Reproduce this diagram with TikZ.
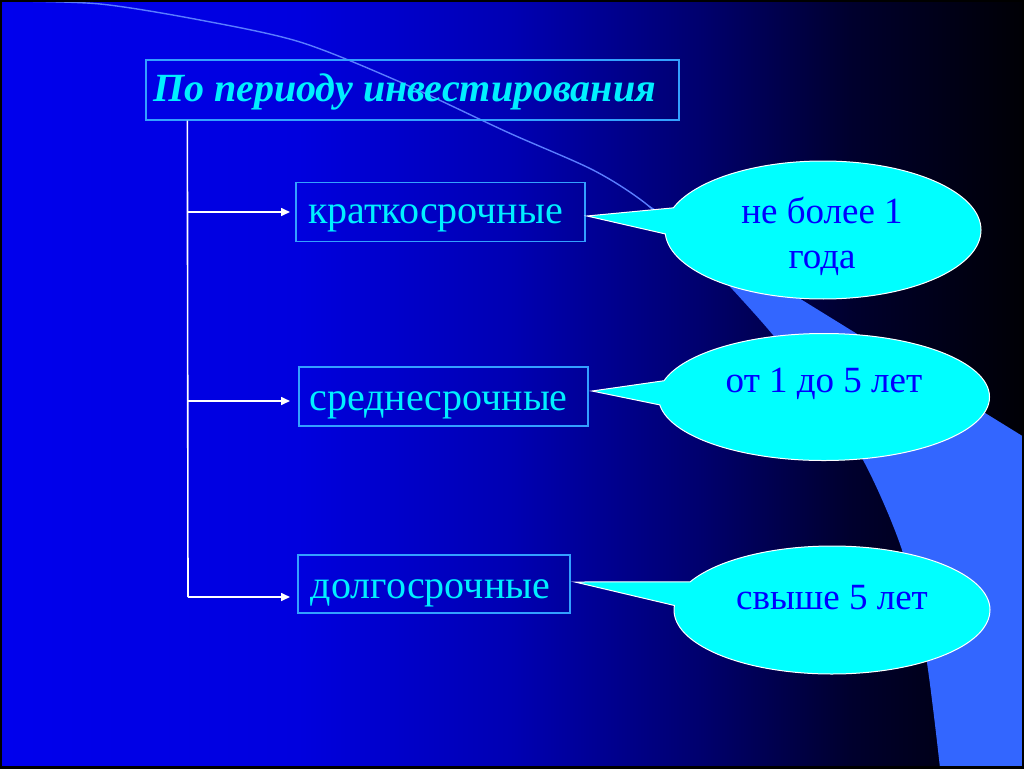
\documentclass[tikz,border=0pt]{standalone}
\usepackage{fontspec}
\setmainfont{Liberation Serif}
\usetikzlibrary{shapes.callouts,arrows.meta}
\definecolor{bandblue}{RGB}{51,102,255}
\definecolor{arcline}{RGB}{90,125,255}
\definecolor{boxline}{RGB}{51,160,255}
\definecolor{txtcyan}{RGB}{0,240,255}
\definecolor{calloutfill}{RGB}{0,255,255}
\definecolor{callouttext}{RGB}{0,0,255}
\pgfdeclarehorizontalshading{bgshade}{100bp}{rgb(0bp)=(0,0,0.93); rgb(25bp)=(0,0,0.93); rgb(39.6bp)=(0,0,0.87); rgb(50bp)=(0,0,0.70); rgb(59.2bp)=(0,0,0.43); rgb(66.5bp)=(0,0,0.18); rgb(75bp)=(0,0,0.02); rgb(100bp)=(0,0,0.02)}
\begin{document}
\begin{tikzpicture}[x=1pt,y=-1pt,
  boxstyle/.style={draw=boxline, line width=1.3pt, text=txtcyan, inner sep=0pt, text depth=0pt, font=\fontsize{40}{45}\selectfont},
  bubble/.style={ellipse callout, fill=calloutfill, draw=white, line width=1pt, inner sep=0pt, callout pointer arc=22},
  bubbletext/.style={text=callouttext, align=center, font=\fontsize{37}{45}\selectfont},
  trunk/.style={draw=white, line width=1.6pt},
  branch/.style={draw=white, line width=1.6pt, -{Triangle[length=9pt,width=8pt]}}]
\useasboundingbox (0,0) rectangle (1024,768);
\fill[shading=bgshade] (0,0) rectangle (1024,768);
\fill[bandblue] plot[smooth] coordinates {(645,203) (690,245) (733,290) (777,340) (820,400) (863,460) (902,550) (925,650) (940,768)} -- (1024,768) -- (1024,437) -- cycle;
\draw[arcline, line width=1.4pt] plot[smooth] coordinates {(8,1) (100,4) (200,20) (300,42) (400,82) (507,132) (593,170) (645,203) (690,245)};

\node[boxstyle, minimum width=533pt, minimum height=60pt, text height=22pt, font=\fontsize{40}{45}\selectfont\bfseries\itshape] (title) at (412.5,90) {По периоду инвестирования\hspace*{16pt}};
\node[boxstyle, minimum width=289pt, minimum height=59pt, text height=22pt] (b1) at (440.5,212) {краткосрочные\hspace*{10pt}};
\node[boxstyle, minimum width=289pt, minimum height=59pt, text height=28pt] (b2) at (443.5,396.5) {среднесрочные\hspace*{10pt}};
\node[boxstyle, minimum width=272pt, minimum height=58pt, text height=28pt] (b3) at (434,584) {долгосрочные\hspace*{7pt}};

\coordinate (top) at ([xshift=42pt]title.south west);
\coordinate (j1) at (188,212);
\coordinate (j2) at (188,401);
\coordinate (j3) at (188,597);
\coordinate (a1) at (290,212);
\coordinate (a2) at (290,401);
\coordinate (a3) at (290,597);
\draw[trunk] (top) -- (j3);
\draw[branch] (j1) -- (a1);
\draw[branch] (j2) -- (a2);
\draw[branch] (j3) -- (a3);

\node[bubble, minimum width=316pt, minimum height=138pt, callout absolute pointer={(587,216)}] (e1) at (823,230) {};
\node[bubbletext] (t1) at (822,236) {не более 1\\года};
\node[bubble, minimum width=331pt, minimum height=127pt, callout absolute pointer={(592,391)}] (e2) at (824,397) {};
\node[bubbletext] (t2) at (824,384) {от 1 до 5 лет};
\node[bubble, minimum width=316pt, minimum height=128pt, callout absolute pointer={(575,582)}] (e3) at (832,610) {};
\node[bubbletext] (t3) at (832,598) {свыше 5 лет};

\draw[black, line width=4pt] (0,0) rectangle (1024,768);
\end{tikzpicture}
\end{document}
